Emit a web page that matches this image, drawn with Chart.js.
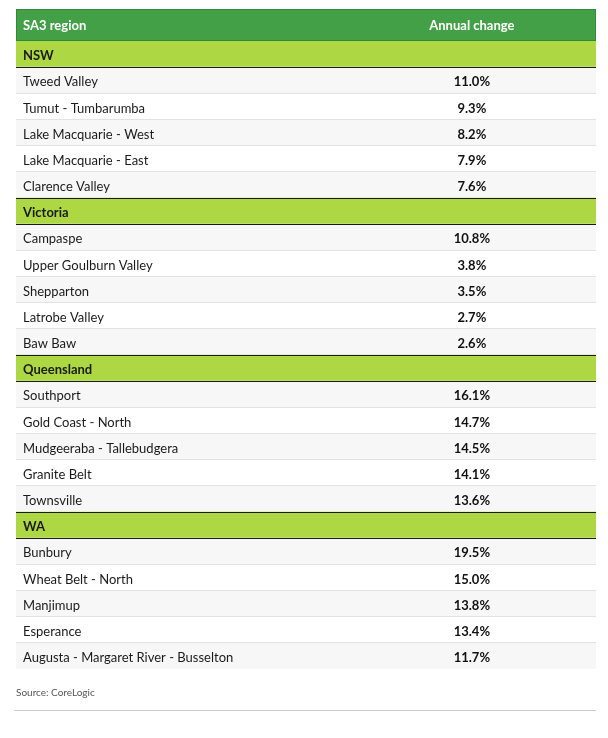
<!DOCTYPE html>
<html>
<head>
<meta charset="utf-8">
<script src="https://cdn.jsdelivr.net/npm/chart.js"></script>
<style>
  html, body { margin: 0; padding: 0; background: #fff; }
  #wrap { width: 608px; height: 738px; }
</style>
</head>
<body>
<div id="wrap"><canvas id="chart"></canvas></div>
<script>
// table data
const headers = ['SA3 region', 'Annual change'];
const groups = ['NSW', 'Victoria', 'Queensland', 'WA'];
const nswRegions = ['Tweed Valley', 'Tumut - Tumbarumba', 'Lake Macquarie - West', 'Lake Macquarie - East', 'Clarence Valley'];
const nswChange = [11.0, 9.3, 8.2, 7.9, 7.6];
const vicRegions = ['Campaspe', 'Upper Goulburn Valley', 'Shepparton', 'Latrobe Valley', 'Baw Baw'];
const vicChange = [10.8, 3.8, 3.5, 2.7, 2.6];
const qldRegions = ['Southport', 'Gold Coast - North', 'Mudgeeraba - Tallebudgera', 'Granite Belt', 'Townsville'];
const qldChange = [16.1, 14.7, 14.5, 14.1, 13.6];
const waRegions = ['Bunbury', 'Wheat Belt - North', 'Manjimup', 'Esperance', 'Augusta - Margaret River - Busselton'];
const waChange = [19.5, 15.0, 13.8, 13.4, 11.7];
const source = 'Source: CoreLogic';

const FONT = 'Lato';
const regionSets = [nswRegions, vicRegions, qldRegions, waRegions];
const changeSets = [nswChange, vicChange, qldChange, waChange];

// flatten into rows: group row followed by its regions
const rows = [];
groups.forEach((g, gi) => {
  rows.push({ name: g, group: true });
  regionSets[gi].forEach((r, ri) => {
    rows.push({ name: r, group: false, value: changeSets[gi][ri], odd: ri % 2 === 0 });
  });
});

const rowColor = rows.map(r => r.group ? '#add843' : (r.odd ? '#f7f7f7' : '#ffffff'));

// header, value column and footer
const tablePlugin = {
  id: 'tablePlugin',
  afterDraw(chart) {
    const { ctx, chartArea, scales } = chart;
    const y = scales.y;
    const colX = scales.x.getPixelForValue(0.786);
    ctx.save();

    // header bar
    const top = chartArea.top - 32;
    ctx.fillStyle = '#43a047';
    ctx.fillRect(chartArea.left, top, chartArea.width, 32);
    ctx.strokeStyle = '#2f8a37';
    ctx.lineWidth = 1;
    ctx.strokeRect(chartArea.left + 0.5, top + 0.5, chartArea.width - 1, 31);
    ctx.fillStyle = '#ffffff';
    ctx.font = 'bold 13px ' + FONT;
    ctx.textBaseline = 'middle';
    ctx.textAlign = 'left';
    ctx.fillText(headers[0], chartArea.left + 7, top + 17);
    ctx.textAlign = 'center';
    ctx.fillText(headers[1], colX, top + 17);

    // value column
    ctx.fillStyle = '#111111';
    ctx.font = 'bold 13px ' + FONT;
    rows.forEach((r, i) => {
      if (r.group) return;
      ctx.fillText(r.value.toFixed(1) + '%', colX, y.getPixelForValue(i) + 2);
    });

    // footer
    ctx.textAlign = 'left';
    ctx.fillStyle = '#555555';
    ctx.font = '10px ' + FONT;
    ctx.fillText(source, chartArea.left, chartArea.bottom + 24);
    ctx.strokeStyle = '#cccccc';
    ctx.beginPath();
    ctx.moveTo(chartArea.left - 2, chartArea.bottom + 41.5);
    ctx.lineTo(chartArea.right, chartArea.bottom + 41.5);
    ctx.stroke();
    ctx.restore();
  }
};

new Chart(document.getElementById('chart'), {
  type: 'bar',
  data: {
    labels: rows.map(r => r.name),
    datasets: [{
      data: rows.map(() => [0, 1]),
      backgroundColor: rowColor,
      borderWidth: 0,
      barPercentage: 1,
      categoryPercentage: 1
    }]
  },
  options: {
    indexAxis: 'y',
    responsive: true,
    maintainAspectRatio: false,
    animation: false,
    layout: { padding: { top: 41, left: 16, right: 12, bottom: 69 } },
    plugins: { legend: { display: false }, tooltip: { enabled: false } },
    scales: {
      x: { display: false, min: 0, max: 1 },
      y: {
        afterFit: s => { s.width = 0; },
        border: { display: false },
        grid: {
          z: 1,
          offset: true,
          drawTicks: false,
          color: c => {
            const i = c.index;
            if (i === undefined || i >= rows.length) return 'rgba(0,0,0,0)';
            if (rows[i].group || (i > 0 && rows[i - 1].group)) return '#1a1a1a';
            return '#e2e2e2';
          }
        },
        ticks: {
          z: 1,
          mirror: true,
          padding: 7,
          labelOffset: 2,
          autoSkip: false,
          color: '#1a1a1a',
          font: c => ({ family: FONT, size: 13, weight: rows[c.index] && rows[c.index].group ? 'bold' : 'normal' })
        }
      }
    }
  },
  plugins: [tablePlugin]
});
</script>
</body>
</html>
